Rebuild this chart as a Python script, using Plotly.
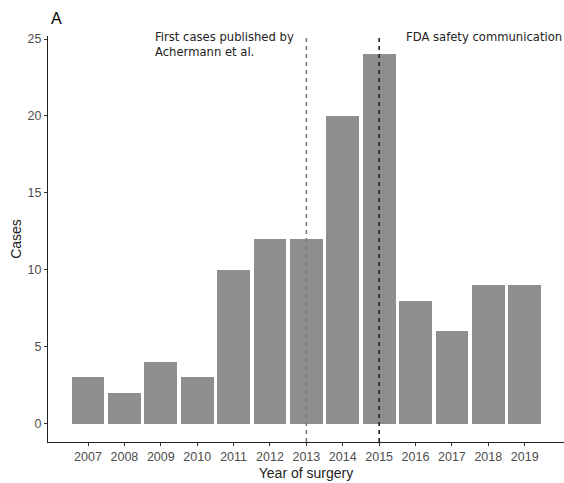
import plotly.graph_objects as go

# Cases per year of surgery
years = [2007, 2008, 2009, 2010, 2011, 2012, 2013, 2014, 2015, 2016, 2017, 2018, 2019]
cases = [3, 2, 4, 3, 10, 12, 12, 20, 24, 8, 6, 9, 9]

# Reference events marked with vertical dashed lines
event_years = [2013, 2015]
event_labels = ["First cases published by<br>Achermann et al.", "FDA safety communication"]
event_colors = ["#7f7f7f", "#222222"]

y_ticks = [0, 5, 10, 15, 20, 25]

tick_font = dict(family="Liberation Sans, Arial, sans-serif", size=12.5, color="#4d4d4d")
title_font = dict(family="Liberation Sans, Arial, sans-serif", size=14, color="#222222")
note_font = dict(family="DejaVu Sans, Verdana, sans-serif", size=11.6, color="#222222")

fig = go.Figure()
fig.add_trace(go.Bar(
    x=years, y=cases, width=0.9,
    marker=dict(color="#8e8e8e", line=dict(width=0)),
    hoverinfo="x+y",
))

for yr, col in zip(event_years, event_colors):
    fig.add_shape(type="line", xref="x", yref="paper", x0=yr, x1=yr, y0=0, y1=1,
                  line=dict(color=col, width=1.6, dash="4px,4px"), layer="above")

# Event notes: first one sits left of its line, second one right of its line
fig.add_annotation(x=2008.78, xref="x", y=1.02, yref="paper", text=event_labels[0],
                   showarrow=False, xanchor="left", yanchor="top", align="left", font=note_font)
fig.add_annotation(x=2015.68, xref="x", y=1.02, yref="paper", text=event_labels[1],
                   showarrow=False, xanchor="left", yanchor="top", align="left", font=note_font)

# Panel tag
fig.add_annotation(x=0.002, xref="paper", y=1.044, yref="paper", text="A", showarrow=False,
                   xanchor="left", yanchor="middle",
                   font=dict(family="Liberation Sans, Arial, sans-serif", size=16, color="#000000"))

fig.update_layout(
    width=564, height=483,
    margin=dict(l=48, r=0, t=36, b=41, autoexpand=False),
    plot_bgcolor="white", paper_bgcolor="white",
    showlegend=False, bargap=0,
    xaxis=dict(
        range=[2005.9, 2020.08], tickmode="array", tickvals=years,
        ticktext=[str(y) for y in years], tickfont=tick_font,
        ticks="outside", ticklen=3, tickcolor="#333333", tickwidth=1,
        showline=True, linecolor="#222222", linewidth=1.2,
        showgrid=False, zeroline=False, automargin=False,
        title=dict(text="Year of surgery", font=title_font, standoff=5),
    ),
    yaxis=dict(
        range=[-1.2, 25.2], tickmode="array", tickvals=y_ticks, tickfont=tick_font,
        ticks="outside", ticklen=3, tickcolor="#333333", tickwidth=1,
        showline=True, linecolor="#222222", linewidth=1.2,
        showgrid=False, zeroline=False, automargin=False,
        title=dict(text="Cases", font=title_font, standoff=2),
    ),
)

fig.write_html("out.html")
